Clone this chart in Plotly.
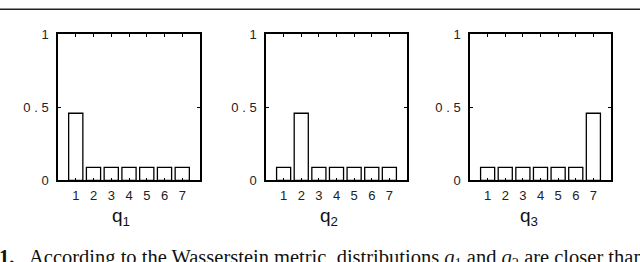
import plotly.graph_objects as go

# ---- data ----
categories = [1, 2, 3, 4, 5, 6, 7]
q1_values = [0.46, 0.09, 0.09, 0.09, 0.09, 0.09, 0.09]
q2_values = [0.09, 0.46, 0.09, 0.09, 0.09, 0.09, 0.09]
q3_values = [0.09, 0.09, 0.09, 0.09, 0.09, 0.09, 0.46]
panel_labels = ["q<sub>1</sub>", "q<sub>2</sub>", "q<sub>3</sub>"]
y_tick_vals = [0, 0.5, 1]
y_tick_text = ["0", "0 . 5", "1"]

W, H = 640, 262
series = [q1_values, q2_values, q3_values]
# panel pixel boxes (left, right)
panels_px = [(58, 200), (266, 407), (470, 611)]
label_centers_px = [121, 329, 529]
top_px, bottom_px = 29, 184

fig = go.Figure()
for i, vals in enumerate(series):
    n = "" if i == 0 else str(i + 1)
    fig.add_trace(go.Bar(
        x=categories, y=vals, width=0.8,
        marker=dict(color="white", line=dict(color="black", width=1.3)),
        xaxis="x" + n, yaxis="y" + n, showlegend=False, hoverinfo="skip"))
    l, r = panels_px[i]
    ax = dict(
        domain=[l / W, r / W], range=[0, 8], tickvals=categories,
        ticks="inside", ticklen=3, tickwidth=1, tickcolor="black",
        showline=True, linecolor="black", linewidth=1.5, mirror="ticks",
        showgrid=False, zeroline=False, fixedrange=True,
        ticklabelstandoff=2,
        tickfont=dict(family="Liberation Sans, Arial", size=13, color="#222"),
        anchor="y" + n)
    ay = dict(
        domain=[1 - bottom_px / H, 1 - top_px / H], range=[0, 1],
        tickvals=y_tick_vals, ticktext=y_tick_text,
        ticks="inside", ticklen=3, tickwidth=1, tickcolor="black",
        showline=True, linecolor="black", linewidth=1.5, mirror="ticks",
        showgrid=False, zeroline=False, fixedrange=True,
        ticklabelstandoff=5,
        tickfont=dict(family="Liberation Sans, Arial", size=13, color="#222"),
        anchor="x" + n)
    fig.layout["xaxis" + n] = ax
    fig.layout["yaxis" + n] = ay
    fig.add_annotation(
        x=label_centers_px[i] / W, y=1 - 223 / H, xref="paper", yref="paper",
        text=panel_labels[i], showarrow=False, xanchor="center", yanchor="middle",
        font=dict(family="Liberation Sans, Arial", size=19, color="#111"))

# top rule
fig.add_shape(type="line", xref="paper", yref="paper", x0=0, x1=1,
              y0=1 - 2.5 / H, y1=1 - 2.5 / H, line=dict(color="#222", width=1.5))

# caption (cut off at the bottom of the picture, as in the reference)
fig.add_annotation(
    x=-3 / W, y=1 - 251 / H, xref="paper", yref="paper", xanchor="left", yanchor="top",
    text="<b>1.</b>", showarrow=False,
    font=dict(family="Liberation Serif, serif", size=20.5, color="#111"))
fig.add_annotation(
    x=27 / W, y=1 - 251 / H, xref="paper", yref="paper", xanchor="left", yanchor="top",
    text="According to the Wasserstein metric, distributions <i>q</i><sub>1</sub> and <i>q</i><sub>2</sub> are closer than",
    showarrow=False,
    font=dict(family="Liberation Serif, serif", size=20.5, color="#111"))

fig.update_layout(
    width=W, height=H, margin=dict(l=0, r=0, t=0, b=0),
    paper_bgcolor="white", plot_bgcolor="white", bargap=0.2)

fig.write_html("out.html", config={"displayModeBar": False},
               post_script="document.body.style.margin='0';document.body.style.overflow='hidden';")
